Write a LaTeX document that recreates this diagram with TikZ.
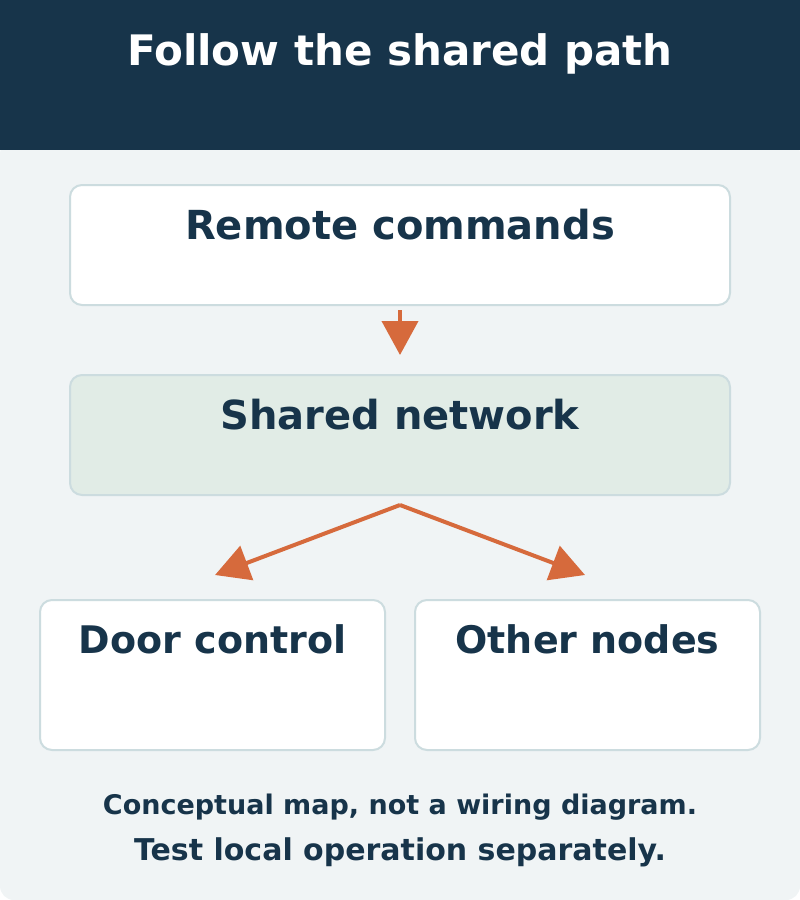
\documentclass[tikz,border=0pt]{standalone}
\usepackage{fontspec}
\setmainfont{DejaVu Sans}
\usetikzlibrary{arrows.meta}
\definecolor{navy}{HTML}{17344A}
\definecolor{bg}{HTML}{F0F4F5}
\definecolor{edge}{HTML}{CCDCDF}
\definecolor{mint}{HTML}{E1ECE6}
\definecolor{rust}{HTML}{D66A3C}
\begin{document}
\begin{tikzpicture}[x=1pt,y=-1pt,
  box/.style={draw=edge,line width=2pt,rounded corners=12pt,fill=white},
  lbl/.style={text=navy,font=\bfseries\fontsize{40}{48}\selectfont,anchor=base},
  slbl/.style={text=navy,font=\bfseries\fontsize{38}{46}\selectfont,anchor=base},
  arr/.style={draw=rust,line width=4pt,-{Triangle[length=34pt,width=36pt]}}]
\useasboundingbox (0,0) rectangle (800,900);
\path[fill=bg,rounded corners=14pt] (0,140) rectangle (800,900);
\fill[navy] (0,0) rectangle (800,150);
\node[text=white,font=\bfseries\fontsize{42}{50}\selectfont,anchor=base] (title) at (400,65) {Follow the shared path};
\node[box,minimum width=660pt,minimum height=120pt] (rc) at (400,245) {};
\node[lbl] (rct) at (400,239) {Remote commands};
\node[box,fill=mint,minimum width=660pt,minimum height=120pt] (sn) at (400,435) {};
\node[lbl] (snt) at (400,429) {Shared network};
\node[box,minimum width=345pt,minimum height=150pt] (dc) at (212.5,675) {};
\node[slbl] (dct) at (212.5,653) {Door control};
\node[box,minimum width=345pt,minimum height=150pt] (on) at (587.5,675) {};
\node[slbl] (ont) at (587.5,653) {Other nodes};
\coordinate (a1) at (400,310);
\coordinate (a2) at (400,355);
\coordinate (b0) at (400,505);
\coordinate (b1) at (215,575);
\coordinate (b2) at (585,575);
\draw[arr] (a1) -- (a2);
\draw[arr] (b0) -- (b1);
\draw[arr] (b0) -- (b2);
\node[text=navy,font=\bfseries\fontsize{27}{32}\selectfont,anchor=base] (f1) at (400,814) {Conceptual map, not a wiring diagram.};
\node[text=navy,font=\bfseries\fontsize{30}{36}\selectfont,anchor=base] (f2) at (400,860) {Test local operation separately.};
\end{tikzpicture}
\end{document}
